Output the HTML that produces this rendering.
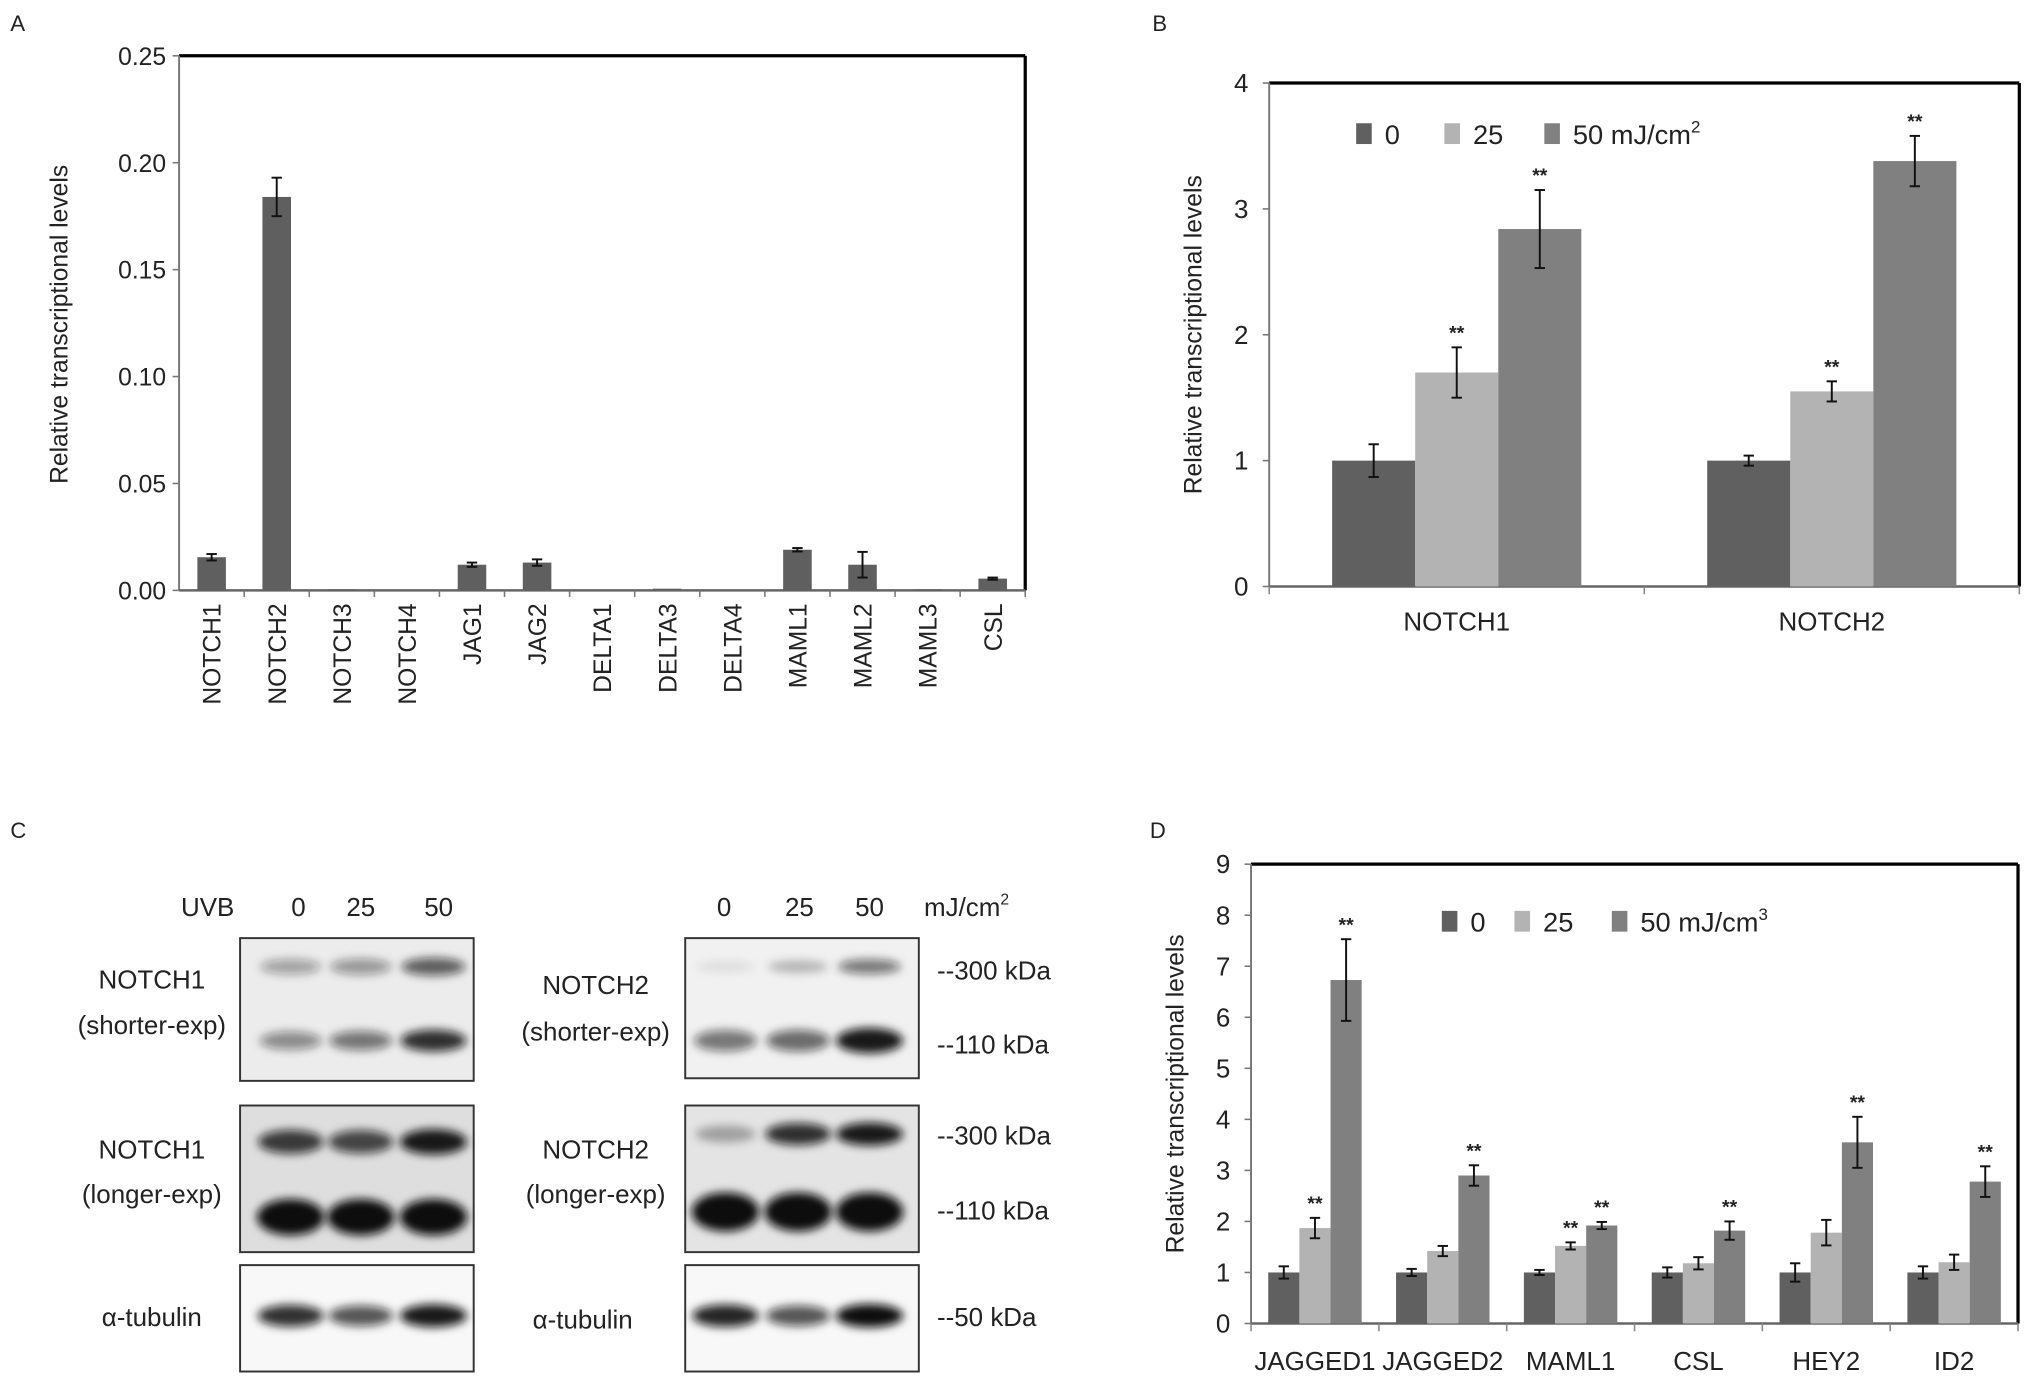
<!DOCTYPE html>
<html><head><meta charset="utf-8"><style>
html,body{margin:0;padding:0;background:#fff}
svg{display:block}
text{font-family:"Liberation Sans",Arial,sans-serif;fill:#222}
</style></head><body>
<svg id="fig" width="2031" height="1378" viewBox="0 0 1565 1062" preserveAspectRatio="none" xmlns="http://www.w3.org/2000/svg">
<defs>
<filter id="blur3" x="-50%" y="-100%" width="200%" height="300%"><feGaussianBlur stdDeviation="3.5"/></filter>
<filter id="blur6"><feGaussianBlur stdDeviation="6"/></filter>
</defs>
<g id="gA"></g>
<g id="gB"></g>
<g id="gC"></g>
<g id="gD"></g>
</svg>
<script>
// Panel A data
const aCategories=["NOTCH1","NOTCH2","NOTCH3","NOTCH4","JAG1","JAG2","DELTA1","DELTA3","DELTA4","MAML1","MAML2","MAML3","CSL"];
const aValues=[0.0155,0.184,0.0005,0,0.012,0.013,0,0.0008,0,0.019,0.012,0.0005,0.0055];
const aErrors=[0.0015,0.009,0,0,0.001,0.0015,0,0,0,0.0008,0.006,0,0.0005];
const aTicks=["0.00","0.05","0.10","0.15","0.20","0.25"];
// Panel B data
const bCategories=["NOTCH1","NOTCH2"];
const bSeries0=[1,1];
const bSeries25=[1.7,1.55];
const bSeries50=[2.84,3.38];
const bErr0=[0.13,0.04];
const bErr25=[0.2,0.08];
const bErr50=[0.31,0.2];
const bStars25=[true,true];
const bStars50=[true,true];
const bTicks=["0","1","2","3","4"];
// Panel D data
const dCategories=["JAGGED1","JAGGED2","MAML1","CSL","HEY2","ID2"];
const dSeries0=[1,1,1,1,1,1];
const dSeries25=[1.87,1.42,1.52,1.18,1.78,1.2];
const dSeries50=[6.73,2.9,1.92,1.82,3.55,2.78];
const dErr0=[0.12,0.07,0.05,0.1,0.18,0.12];
const dErr25=[0.2,0.1,0.07,0.12,0.25,0.15];
const dErr50=[0.8,0.2,0.07,0.18,0.5,0.3];
const dStars25=[true,false,true,false,false,false];
const dStars50=[true,true,true,true,true,true];
const dTicks=["0","1","2","3","4","5","6","7","8","9"];

const NS="http://www.w3.org/2000/svg";
function el(parent,tag,attrs,txt){const e=document.createElementNS(NS,tag);for(const k in attrs)e.setAttribute(k,attrs[k]);if(txt!==undefined)e.textContent=txt;parent.appendChild(e);return e;}

function frame(g,x0,y0,x1,y1,ticks,tickX,fs){
  const r=el(g,'line',{x1:x0,y1:y0,x2:x1,y2:y0,stroke:'#000','stroke-width':2.5});
  
  
  const rr=el(g,'line',{x1:x1,y1:y0,x2:x1,y2:y1,stroke:'#000','stroke-width':2.5});
  
  
  const l=el(g,'line',{x1:x0,y1:y0,x2:x0,y2:y1,stroke:'#777','stroke-width':1.5});
  
  
  const b=el(g,'line',{x1:x0,y1:y1,x2:x1,y2:y1,stroke:'#666','stroke-width':2});
  
  
  ticks.forEach((t,i)=>{
    const y=y1-(y1-y0)*i/(ticks.length-1);
    el(g,'line',{x1:x0-5,y1:y,x2:x0,y2:y,stroke:'#777','stroke-width':1.2});
    const tt=el(g,'text',{x:tickX,y:y+7,'text-anchor':'end','font-size':fs},t);
    
    
  });
}
function errbar(g,x,yTop,yBot){
  el(g,'line',{x1:x,y1:yTop,x2:x,y2:yBot,stroke:'#111','stroke-width':1.5});
  el(g,'line',{x1:x-4,y1:yTop,x2:x+4,y2:yTop,stroke:'#111','stroke-width':1.5});
  el(g,'line',{x1:x-4,y1:yBot,x2:x+4,y2:yBot,stroke:'#111','stroke-width':1.5});
}
function ylabel(g,x,y,fs){
  const t=el(g,'text',{x:0,y:0,'text-anchor':'middle','font-size':fs,transform:`translate(${x},${y}) rotate(-90)`},'Relative transcriptional levels');
  
  
}
function panelLetter(g,x,y,s){
  const t=el(g,'text',{x:x,y:y,'font-size':17},s);
  
  
}

// ---------- Panel A
(function(){
  const g=document.getElementById('gA');
  const x0=138,x1=790,y0=43,y1=455,max=0.25;
  const ys=v=>y1-(y1-y0)*v/max;
  panelLetter(g,8,24,'A');
  frame(g,x0,y0,x1,y1,aTicks,128,19);
  ylabel(g,52,250,19);
  const bw=(x1-x0)/aCategories.length;
  aCategories.forEach((c,i)=>{
    const cx=x0+bw*(i+0.5);
    el(g,'line',{x1:x0+bw*(i+1),y1:y1,x2:x0+bw*(i+1),y2:y1+5,stroke:'#777','stroke-width':1.2});
    const r=el(g,'rect',{x:cx-11,y:ys(aValues[i]),width:22,height:y1-ys(aValues[i]),fill:'#5f5f5f'});
    
    
    if(aErrors[i]>0) errbar(g,cx,ys(aValues[i]+aErrors[i]),ys(aValues[i]-aErrors[i]));
    const t=el(g,'text',{x:0,y:0,'text-anchor':'end','font-size':19,transform:`translate(${cx+7},${y1+10}) rotate(-90)`},c);
    
    
  });
})();

// grouped chart helper
function grouped(gid,x0,x1,y0,y1,max,cats,s0,s25,s50,e0,e25,e50,st25,st50,ticks,tickX,barW,legendY,legendXs,unitSup,catY,letterPos,letter,ylx,lbls){
  const g=document.getElementById(gid);
  const ys=v=>y1-(y1-y0)*v/max;
  panelLetter(g,letterPos[0],letterPos[1],letter);
  frame(g,x0,y0,x1,y1,ticks,tickX,20);
  ylabel(g,ylx,(y0+y1)/2,19);
  const gw=(x1-x0)/cats.length;
  const colors=['#606060','#b3b3b3','#808080'];
  const series=[s0,s25,s50],errs=[e0,e25,e50],stars=[null,st25,st50];
  const names=['0','25','50'];
  cats.forEach((c,i)=>{
    const gc=x0+gw*(i+0.5);
    el(g,'line',{x1:x0+gw*(i+1),y1:y1,x2:x0+gw*(i+1),y2:y1+6,stroke:'#888','stroke-width':1.2});
    if(i===0) el(g,'line',{x1:x0,y1:y1,x2:x0,y2:y1+6,stroke:'#888','stroke-width':1.2});
    for(let s=0;s<3;s++){
      const bx=gc+(s-1.5)*barW;
      const v=series[s][i];
      const r=el(g,'rect',{x:bx,y:ys(v),width:barW,height:y1-ys(v),fill:colors[s]});
      
      
      const top=ys(v+errs[s][i]);
      errbar(g,bx+barW/2,top,ys(v-errs[s][i]));
      if(stars[s]&&stars[s][i]){
        const t=el(g,'text',{x:bx+barW/2,y:top-6,'text-anchor':'middle','font-size':15,'font-weight':'bold'},'**');
        
        
      }
    }
    const t=el(g,'text',{x:gc,y:catY,'text-anchor':'middle','font-size':20},c);
    
    
  });
  for(let s=0;s<3;s++){
    const r=el(g,'rect',{x:legendXs[s],y:legendY-8,width:12,height:16,fill:colors[s]});
    
    
    const t=el(g,'text',{x:legendXs[s]+22,y:legendY+8,'font-size':21},lbls[s]);
    
    
    if(s===2){el(t,'tspan',{'font-size':13,dy:-9},unitSup);}
  }
}
grouped('gB',978,1556,64,452,4,bCategories,bSeries0,bSeries25,bSeries50,bErr0,bErr25,bErr50,bStars25,bStars50,bTicks,962,64,103,[1045,1113,1190],'2',486,[888,24],'B',926,['0','25','50 mJ/cm']);
grouped('gD',964,1555,666,1020,9,dCategories,dSeries0,dSeries25,dSeries50,dErr0,dErr25,dErr50,dStars25,dStars50,dTicks,948,24,710,[1111,1167,1242],'3',1056,[886,646],'D',912,['0','25','50 mJ/cm']);

// ---------- Panel C blots
(function(){
  const g=document.getElementById('gC');
  panelLetter(g,8,646,'C');
  const hdr=[['UVB',160,'middle'],['0',230,'middle'],['25',278,'middle'],['50',338,'middle'],['0',558,'middle'],['25',616,'middle'],['50',670,'middle']];
  hdr.forEach(h=>{const t=el(g,'text',{x:h[1],y:706,'text-anchor':h[2],'font-size':20},h[0]);
    
    });
  const u=el(g,'text',{x:712,y:706,'font-size':20},'mJ/cm');el(u,'tspan',{'font-size':12,dy:-9},'2');
  
  
  const blots=[
    {x:185,y:723,h:110,bg:'#ececec',bands:[[745,[0.35,0.4,0.65],8],[802,[0.45,0.55,0.85],9]]},
    {x:185,y:852,h:113,bg:'#dedede',bands:[[880,[0.8,0.75,0.95],10],[938,[1,1,1],14]]},
    {x:185,y:975,h:82,bg:'#f8f8f8',bands:[[1014,[0.85,0.7,0.95],9]]},
    {x:528,y:723,h:108,bg:'#f1f1f1',bands:[[745,[0.08,0.25,0.55],7],[802,[0.55,0.6,0.95],10]]},
    {x:528,y:852,h:113,bg:'#e4e4e4',bands:[[874,[0.3,0.85,0.95],9],[934,[1,1,1],15]]},
    {x:528,y:975,h:82,bg:'#f8f8f8',bands:[[1014,[0.9,0.7,1],9]]}
  ];
  const laneL=[224,278,334],laneR=[559,615,670];
  blots.forEach((b,bi)=>{
    const r=el(g,'rect',{x:b.x,y:b.y,width:180,height:b.h,fill:b.bg,stroke:'#333','stroke-width':1.5});
    
    
    const lanes=b.x<400?laneL:laneR;
    b.bands.forEach(bd=>{
      lanes.forEach((lx,li)=>{
        const o=bd[1][li];
        const e=el(g,'ellipse',{cx:lx,cy:bd[0],rx:22+o*4,ry:bd[2]*(0.6+o*0.4),fill:'#111','fill-opacity':o,filter:'url(#blur3)'});
        
        
      });
    });
  });
  const labels=[['NOTCH1',117,762],['(shorter-exp)',117,797],['NOTCH1',117,893],['(longer-exp)',117,927],['α-tubulin',117,1022],
                ['NOTCH2',459,766],['(shorter-exp)',459,802],['NOTCH2',459,893],['(longer-exp)',459,927],['α-tubulin',449,1024]];
  labels.forEach(l=>{const t=el(g,'text',{x:l[1],y:l[2],'text-anchor':'middle','font-size':20},l[0]);
    
    });
  const kda=[['--300 kDa',755],['--110 kDa',812],['--300 kDa',882],['--110 kDa',940],['--50 kDa',1022]];
  kda.forEach(k=>{const t=el(g,'text',{x:722,y:k[1],'font-size':20},k[0]);
    
    });
})();
</script>
</body></html>
